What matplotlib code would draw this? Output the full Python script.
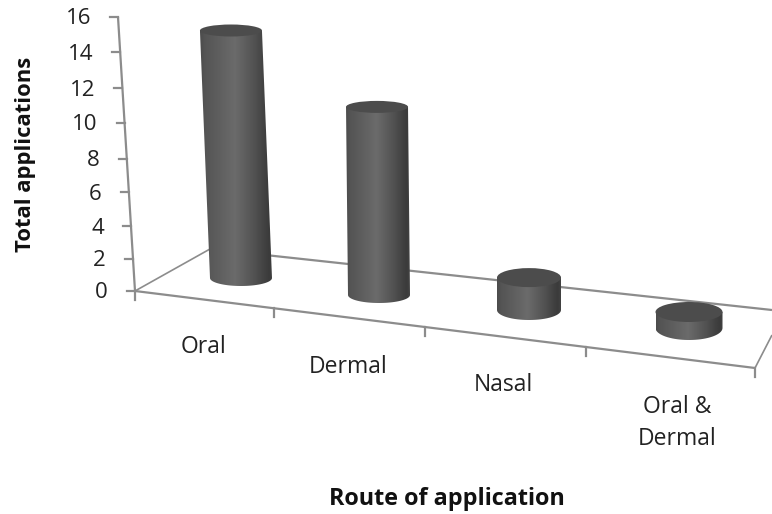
import matplotlib
matplotlib.use("Agg")
import matplotlib.pyplot as plt
import numpy as np
from matplotlib.patches import Ellipse, PathPatch
from matplotlib.path import Path

categories = ["Oral", "Dermal", "Nasal", "Oral &\nDermal"]
values = [15, 11, 2, 1]
y_ticks = [0, 2, 4, 6, 8, 10, 12, 14, 16]
x_title = "Route of application"
y_title = "Total applications"

# the picture is a fake 3D excel chart, so the axes just work in pixels
plt.rcParams["font.family"] = ["Open Sans", "DejaVu Sans"]
fig = plt.figure(figsize=(7.72, 5.14), dpi=100)
ax = fig.add_axes([0, 0, 1, 1])
ax.set_xlim(0, 772)
ax.set_ylim(514, 0)
ax.axis("off")

line_col = "#8c8c8c"

# perspective layout of the chart
origin = np.array([135, 291])
axis_top = np.array([118, 17])
front_end = np.array([755, 368])
back_left = np.array([210, 249])
back_end = np.array([772, 310])
side_end = np.array([772, 335])

# ticks are not evenly spaced because of the perspective
y_frac = np.array([0, 32, 65, 99, 132, 168, 203, 239, 274]) / 274
x_frac = [0, 139 / 620, 290 / 620, 451 / 620, 1]

base_x = [241, 379, 529, 689]
base_y = [278, 295, 310, 328]
half_w = [31, 31, 32, 33.5]
rx_h_top = [6, 6, 9.5, 10]
rx_h_base = [8, 8, 10, 12]
unit_px = [16.5, 17.1, 16.2, 16]
lean_px = [-0.67, -0.18, 0, 0]
label_pos = [(204, 347), (348, 367), (503, 385), (677, 423)]


def seg(a, b, lw=1.6):
    ax.plot([a[0], b[0]], [a[1], b[1]], color=line_col, lw=lw, solid_capstyle="butt", zorder=1)


# floor and wall lines
seg(origin, axis_top)
seg(origin, front_end)
seg(origin, back_left, 1.2)
seg(back_left, back_end)
seg(front_end, side_end, 1.2)

# y ticks
for v, t in zip(y_ticks, y_frac):
    p = origin + (axis_top - origin) * t
    ax.plot([p[0] - 8, p[0]], [p[1], p[1]], color=line_col, lw=1.6, zorder=1)
    ax.text(p[0] - 27, p[1] + 2, str(v), ha="right", va="center", fontsize=16, color="#222222")

# x ticks
for t in x_frac:
    p = origin + (front_end - origin) * t
    ax.plot([p[0], p[0]], [p[1], p[1] + 9], color=line_col, lw=1.6, zorder=1)

# shading across a cylinder
stops_x = [0, 0.06, 0.3, 0.48, 0.75, 0.95, 1]
stops_v = [0.30, 0.33, 0.38, 0.42, 0.32, 0.23, 0.26]
shade = np.interp(np.linspace(0, 1, 128), stops_x, stops_v)[None, :]

for i, v in enumerate(values):
    h = v * unit_px[i]
    bx = base_x[i]
    by = base_y[i]
    w = half_w[i]
    tx = bx + v * lean_px[i]
    ty = by - h
    rb = rx_h_base[i]
    # side of the cylinder, bottom edge is half an ellipse
    th = np.linspace(np.pi, 0, 40)
    xs = bx + w * np.cos(th)
    ys = by + rb * np.sin(th)
    verts = [(tx - w, ty)] + list(zip(xs, ys)) + [(tx + w, ty), (tx - w, ty)]
    path = Path(verts)
    patch = PathPatch(path, fc="none", ec="none", transform=ax.transData)
    ax.add_patch(patch)
    im = ax.imshow(shade, cmap="gray", vmin=0, vmax=1, aspect="auto", zorder=3,
                   extent=[min(tx, bx) - w, max(tx, bx) + w, by + rb, ty], interpolation="bilinear")
    im.set_clip_path(patch)
    ax.add_patch(Ellipse((tx, ty), 2 * w, 2 * rx_h_top[i], fc="#4c4c4c", ec="none", zorder=4))

# imshow resets the limits
ax.set_xlim(0, 772)
ax.set_ylim(514, 0)

for name, pos in zip(categories, label_pos):
    ax.text(pos[0], pos[1], name, ha="center", va="center", fontsize=16.5, color="#222222", linespacing=1.4)

ax.text(447, 499, x_title, ha="center", va="center", fontsize=16.8, fontweight="bold", color="#111111")
ax.text(26, 154, y_title, ha="center", va="center", rotation=90, fontsize=15.8, fontweight="bold", color="#111111")

fig.savefig("out.png", dpi=100)
